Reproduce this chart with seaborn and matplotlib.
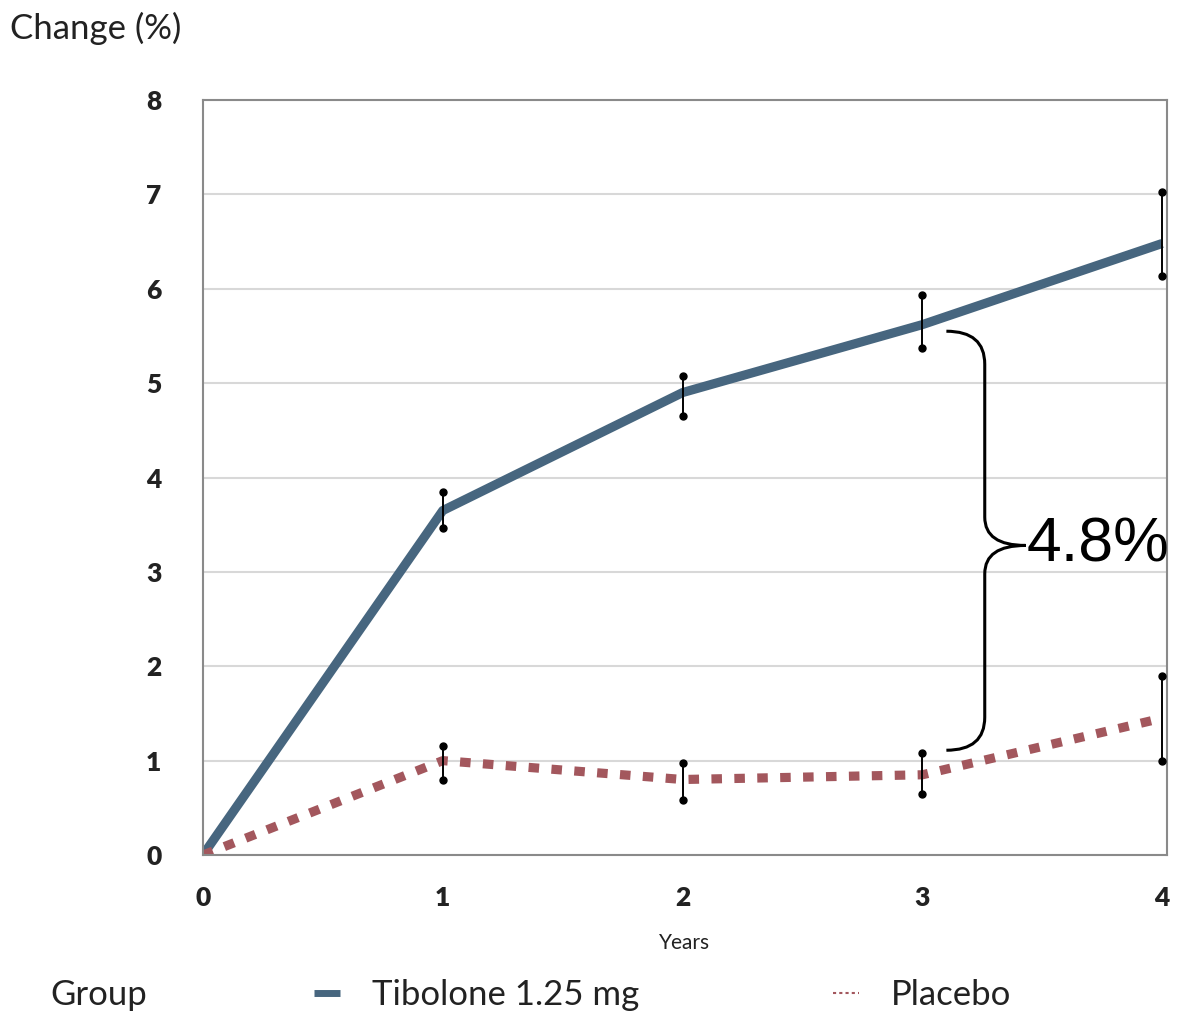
import numpy as np
import pandas as pd
import matplotlib
matplotlib.use("Agg")
import matplotlib.pyplot as plt
from matplotlib.path import Path
from matplotlib.patches import PathPatch
from matplotlib.lines import Line2D
import seaborn as sns

years = [0, 1, 2, 3, 4]
tibolone = [0.0, 3.65, 4.9, 5.62, 6.48]
tibolone_lo = [0.0, 3.47, 4.65, 5.37, 6.13]
tibolone_hi = [0.0, 3.85, 5.08, 5.93, 7.03]
placebo = [0.0, 1.0, 0.8, 0.85, 1.45]
placebo_lo = [0.0, 0.8, 0.58, 0.65, 1.0]
placebo_hi = [0.0, 1.15, 0.98, 1.08, 1.9]
groups = ["Tibolone 1.25 mg", "Placebo"]
y_ticks = [0, 1, 2, 3, 4, 5, 6, 7, 8]
x_ticks = [0, 1, 2, 3, 4]
diff_label = "4.8%"

sns.set_theme(style="white")
plt.rcParams['font.family'] = ['Lato', 'DejaVu Sans']

df = pd.DataFrame({
    "Years": years * 2,
    "Change": tibolone + placebo,
    "Group": [groups[0]] * len(years) + [groups[1]] * len(years),
})

colors = {groups[0]: "#47667f", groups[1]: "#a3575d"}
dashes = {groups[0]: "", groups[1]: (1.15, 1.35)}

fig = plt.figure(figsize=(11.78, 10.19), dpi=100)
ax = fig.add_axes([203/1178, 1-855/1019, (1167-203)/1178, (855-100)/1019])

sns.lineplot(data=df, x="Years", y="Change", hue="Group", style="Group",
             palette=colors, dashes=dashes, linewidth=6.6, legend=False, ax=ax)
for line in ax.lines:
    line.set_solid_capstyle("butt")
    line.set_dash_capstyle("butt")

# error bars
for xs, lo, hi in [(years, tibolone_lo, tibolone_hi), (years, placebo_lo, placebo_hi)]:
    for x, l, h in zip(xs[1:], lo[1:], hi[1:]):
        ax.plot([x, x], [l, h], color="black", lw=1.4, zorder=5)
        ax.plot([x, x], [l, h], 'o', color="black", ms=5, zorder=5)

ax.set_xlim(0, 4.02)
ax.set_ylim(0, 8)
ax.set_xticks(x_ticks)
ax.set_yticks(y_ticks)
ax.set_xticklabels([str(v) for v in x_ticks], fontsize=19, fontweight="heavy", color="#222222")
ax.set_yticklabels([str(v) for v in y_ticks], fontsize=19, fontweight="heavy", color="#222222")
ax.tick_params(axis="x", pad=22, length=0)
ax.tick_params(axis="y", pad=30, length=0)
ax.yaxis.grid(True, color="#d8d8d8", lw=1.5)
ax.xaxis.grid(False)
for s in ax.spines.values():
    s.set_color("#8a8a8a")
    s.set_linewidth(1.5)
ax.set_xlabel("")
ax.set_ylabel("")

# brace
xs0, xv, xt = 3.1, 3.26, 3.43
yt, yb, ym = 5.55, 1.11, 3.28
verts = [(xs0, yt), (xv, yt), (xv, yt - 0.35),
         (xv, ym + 0.3),
         (xv, ym), (xt, ym),
         (xv, ym), (xv, ym - 0.3),
         (xv, yb + 0.35),
         (xv, yb), (xs0, yb)]
codes = [Path.MOVETO, Path.CURVE3, Path.CURVE3,
         Path.LINETO,
         Path.CURVE3, Path.CURVE3,
         Path.CURVE3, Path.CURVE3,
         Path.LINETO,
         Path.CURVE3, Path.CURVE3]
ax.add_patch(PathPatch(Path(verts, codes), facecolor="none", edgecolor="black", lw=2.2, zorder=6))
ax.text(xt + 0.005, ym, diff_label, fontsize=45, family=["Liberation Sans", "DejaVu Sans"],
        va="center", ha="left", color="black", clip_on=False, zorder=7)

fig.text(10/1178, 1-28/1019, "Change (%)", fontsize=25, va="center", ha="left", color="#222222")
fig.text(685/1178, 1-943/1019, "Years", fontsize=15, va="center", ha="center", color="#222222")
fig.text(50/1178, 1-995/1019, "Group", fontsize=25, va="center", ha="left", color="#222222")

handles = [Line2D([], [], color=colors[groups[0]], lw=5, solid_capstyle="butt"),
           Line2D([], [], color=colors[groups[1]], lw=1.5, linestyle=(0, (1.5, 1.5)))]
fig.legend(handles, groups, loc="center left", bbox_to_anchor=(283/1178, 1-995/1019),
           ncol=2, frameon=False, fontsize=25, handlelength=0.75, handletextpad=0.9,
           columnspacing=5.6, labelcolor="#222222")

fig.savefig("out.png", dpi=100)
